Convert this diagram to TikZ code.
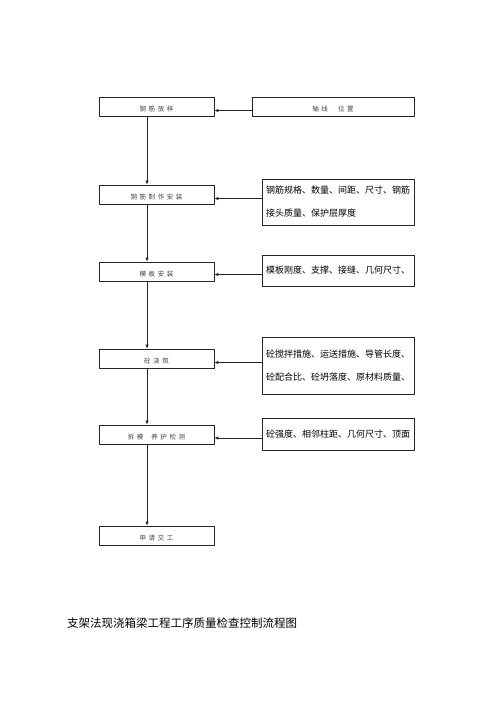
\documentclass[tikz,border=0pt]{standalone}
\usepackage{fontspec}
\usetikzlibrary{arrows.meta}
\newfontfamily\cjk{Noto Sans CJK SC}
\newfontfamily\cjksmall[LetterSpace=40]{Noto Sans CJK SC}

\begin{document}
\begin{tikzpicture}[x=1pt,y=-1pt]
    \tikzset{stepbox/.style={draw=black!85,line width=0.7pt,minimum width=115pt,minimum height=19pt,inner sep=0pt,
        text height=9pt,text depth=0pt,text=black!75,font=\cjksmall\fontsize{6.5}{8}\selectfont}}
    \tikzset{checkbox/.style={draw=black!85,line width=0.7pt,minimum width=152pt,inner sep=0pt,align=left,
        font=\cjk\fontsize{9}{23}\selectfont}}
    \tikzset{edge/.style={line width=0.8pt,black!85}}

    \useasboundingbox (0,0) rectangle (500,707);

    \node[stepbox] (b1) at (156.5, 106.5) {钢筋放样};
    \node[stepbox] (b2) at (156.5, 194.5) {钢筋制作安装};
    \node[stepbox] (b3) at (156.5, 271.5) {模板安装};
    \node[stepbox] (b4) at (156.5, 358.5) {砼浇筑};
    \node[stepbox] (b5) at (156.5, 434.5) {拆模\hspace{8pt}养护检测};
    \node[stepbox] (b6) at (156.5, 535.5) {申请交工};

    \node[stepbox,minimum width=162pt] (r1) at (333, 106.5) {轴线\hspace{10pt}位置};
    \node[checkbox,minimum height=46pt] (r2) at (338, 202) {钢筋规格、数量、间距、尺寸、钢筋\\接头质量、保护层厚度};
    \node[checkbox,minimum height=31pt] (r3) at (338, 270.5) {模板刚度、支撑、接缝、几何尺寸、};
    \node[checkbox,minimum height=57pt] (r4) at (338, 365.5) {砼搅拌措施、运送措施、导管长度、\\砼配合比、砼坍落度、原材料质量、};
    \node[checkbox,minimum height=32pt] (r5) at (338, 434) {砼强度、相邻柱距、几何尺寸、顶面};

    \node[anchor=west,inner sep=0pt,font=\cjk\fontsize{11.5}{14}\selectfont] (title) at (67, 623)
        {支架法现浇箱梁工程工序质量检查控制流程图};

    \begin{scope}[every path/.style={-{Latex[length=4pt,width=3.5pt]}}]
       \draw[edge] ([xshift=-9.5pt]b1.south) -- ([xshift=-9.5pt]b2.north);
       \draw[edge] ([xshift=-9.5pt]b2.south) -- ([xshift=-9.5pt]b3.north);
       \draw[edge] ([xshift=-9.5pt]b3.south) -- ([xshift=-9.5pt]b4.north);
       \draw[edge] ([xshift=-9.5pt]b4.south) -- ([xshift=-9.5pt]b5.north);
       \draw[edge] ([xshift=-9.5pt]b5.south) -- ([xshift=-9.5pt]b6.north);

       \draw[edge] ([yshift=-4pt]b1.east -| r1.west) -- ([yshift=-4pt]b1.east);
       \draw[edge] ([yshift=-4pt]b2.east -| r2.west) -- ([yshift=-4pt]b2.east);
       \draw[edge] ([yshift=-3pt]b3.east -| r3.west) -- ([yshift=-3pt]b3.east);
       \draw[edge] ([yshift=-4pt]b4.east -| r4.west) -- ([yshift=-4pt]b4.east);
       \draw[edge] ([yshift=-3.5pt]b5.east -| r5.west) -- ([yshift=-3.5pt]b5.east);
    \end{scope}
\end{tikzpicture}
\end{document}
